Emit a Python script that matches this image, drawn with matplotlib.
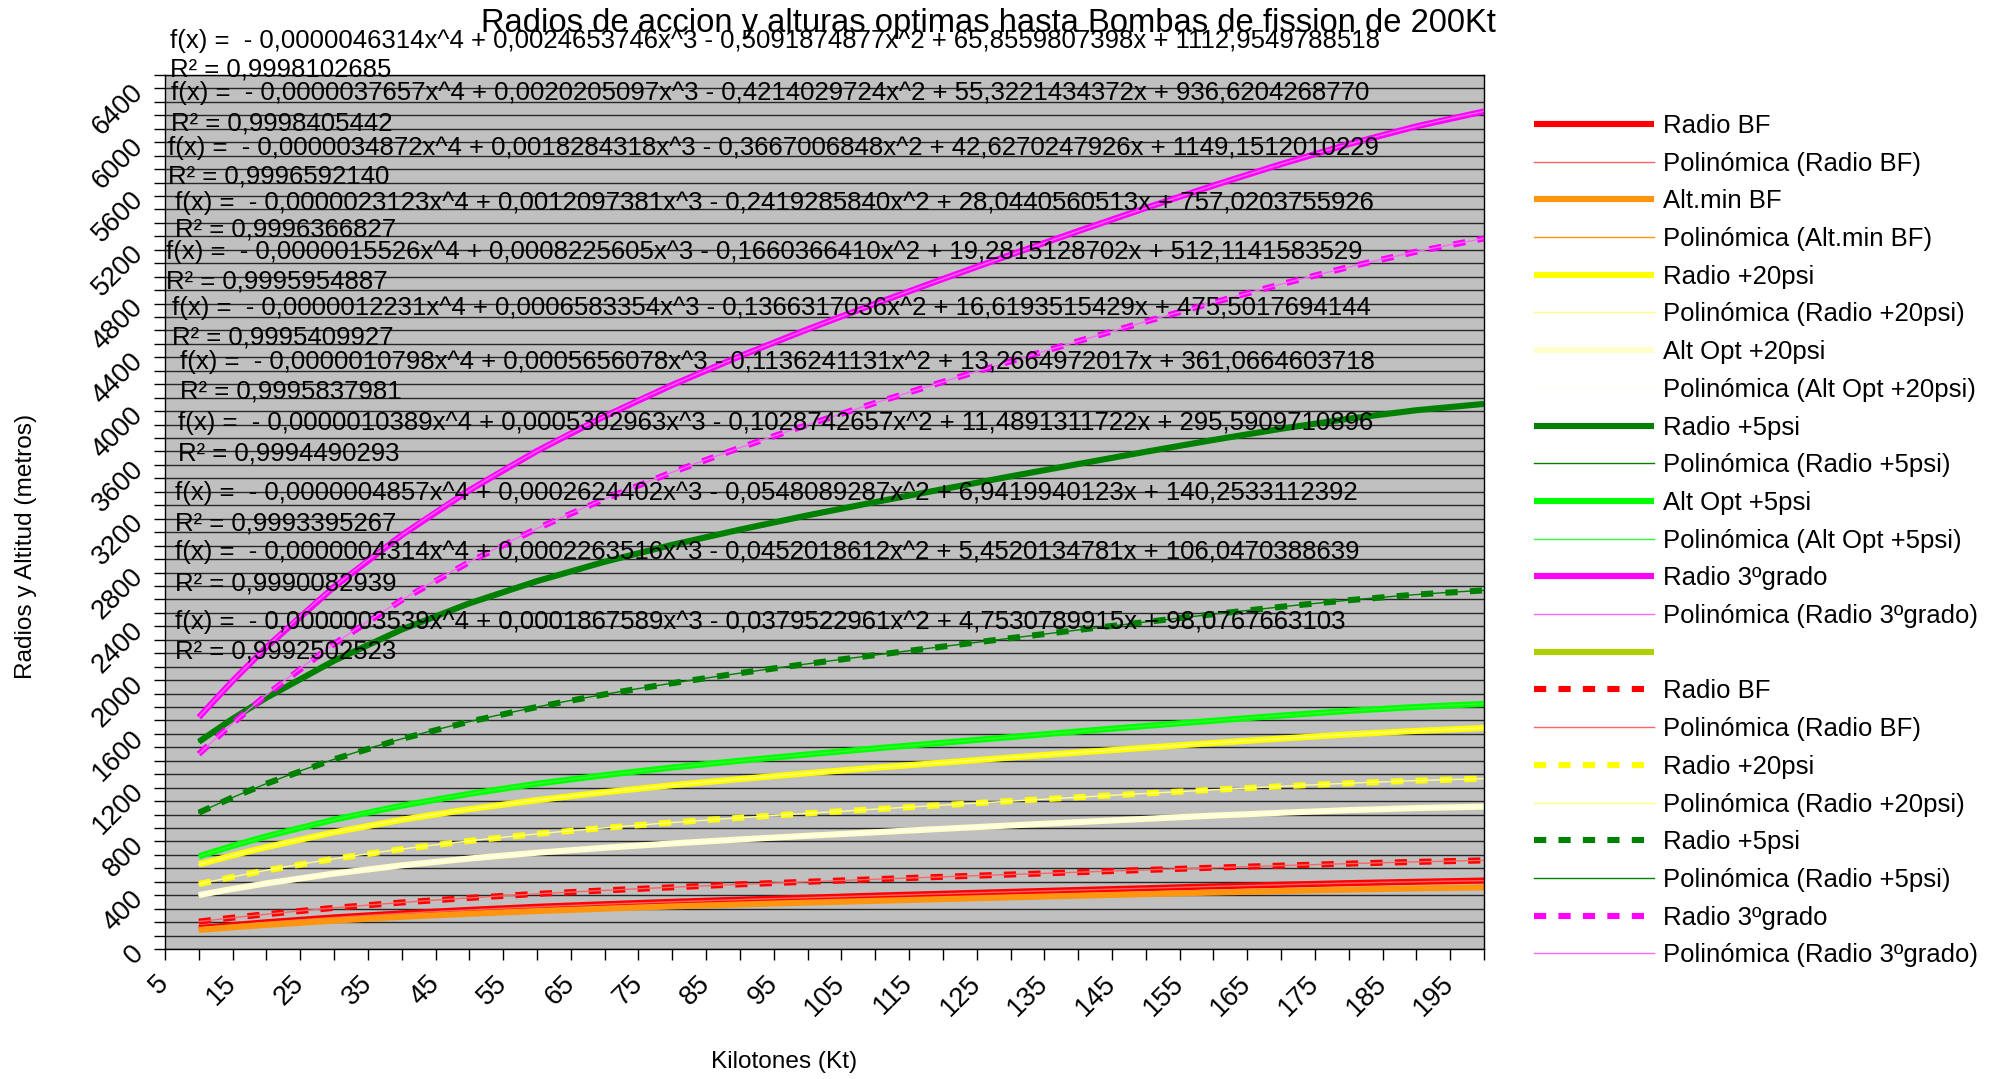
import numpy as np
import matplotlib
matplotlib.use("Agg")
import matplotlib.pyplot as plt
from matplotlib.ticker import MultipleLocator, FuncFormatter

plt.rcParams["font.family"] = ["Liberation Sans", "DejaVu Sans"]

# kilotons (x) and the series
x_kt = [10, 15, 20, 30, 40, 50, 60, 70, 80, 90, 100, 110, 120, 130, 140, 150, 160, 170, 180, 190, 200]

radio_bf = [156, 178, 199, 235, 265, 291, 314, 333, 351, 367, 382, 397, 411, 425, 439, 452, 466, 478, 490, 500, 509]
alt_min_bf = [142, 161, 179, 211, 239, 262, 282, 300, 317, 331, 345, 358, 371, 384, 396, 408, 420, 431, 442, 451, 458]
radio_20psi = [629, 696, 758, 868, 961, 1040, 1107, 1166, 1218, 1264, 1307, 1348, 1386, 1424, 1461, 1497, 1532, 1565, 1596, 1622, 1644]
alt_opt_20psi = [401, 447, 488, 561, 622, 673, 716, 753, 785, 815, 842, 868, 894, 919, 944, 968, 992, 1013, 1033, 1048, 1059]
radio_5psi = [1541, 1712, 1869, 2144, 2376, 2571, 2736, 2880, 3006, 3119, 3225, 3324, 3420, 3515, 3607, 3698, 3786, 3869, 3944, 4007, 4054]
alt_opt_5psi = [689, 767, 838, 962, 1066, 1154, 1229, 1293, 1350, 1400, 1447, 1492, 1534, 1576, 1618, 1659, 1698, 1736, 1771, 1800, 1823]
radio_3g = [1723, 1994, 2245, 2693, 3078, 3412, 3704, 3962, 4195, 4409, 4609, 4799, 4983, 5163, 5339, 5511, 5678, 5837, 5986, 6118, 6229]
# second (dashed) set
radio_bf_b = [204, 233, 259, 306, 346, 380, 410, 436, 459, 481, 500, 519, 537, 554, 571, 588, 605, 620, 635, 648, 659]
radio_20psi_b = [483, 536, 585, 671, 743, 804, 856, 901, 941, 976, 1009, 1040, 1070, 1100, 1129, 1157, 1184, 1210, 1233, 1252, 1267]
radio_5psi_b = [1014, 1127, 1230, 1411, 1563, 1691, 1800, 1894, 1977, 2052, 2121, 2186, 2249, 2312, 2373, 2432, 2490, 2545, 2594, 2636, 2667]
radio_3g_b = [1450, 1678, 1890, 2269, 2595, 2878, 3127, 3347, 3546, 3728, 3899, 4061, 4218, 4370, 4520, 4666, 4808, 4944, 5072, 5186, 5284]

# trend-line equations as printed on the chart (top to bottom)
eq_coefs = [
    [-0.0000046314, 0.0024653746, -0.5091874877, 65.8559807398, 1112.9549788518],
    [-0.0000037657, 0.0020205097, -0.4214029724, 55.3221434372, 936.6204268770],
    [-0.0000034872, 0.0018284318, -0.3667006848, 42.6270247926, 1149.1512010229],
    [-0.0000023123, 0.0012097381, -0.2419285840, 28.0440560513, 757.0203755926],
    [-0.0000015526, 0.0008225605, -0.1660366410, 19.2815128702, 512.1141583529],
    [-0.0000012231, 0.0006583354, -0.1366317036, 16.6193515429, 475.5017694144],
    [-0.0000010798, 0.0005656078, -0.1136241131, 13.2664972017, 361.0664603718],
    [-0.0000010389, 0.0005302963, -0.1028742657, 11.4891311722, 295.5909710896],
    [-0.0000004857, 0.0002624402, -0.0548089287, 6.9419940123, 140.2533112392],
    [-0.0000004314, 0.0002263516, -0.0452018612, 5.4520134781, 106.0470388639],
    [-0.0000003539, 0.0001867589, -0.0379522961, 4.7530789915, 98.0767663103],
]
eq_r2 = [0.9998102685, 0.9998405442, 0.9996592140, 0.9996366827, 0.9995954887,
         0.9995409927, 0.9995837981, 0.9994490293, 0.9993395267, 0.9990082939,
         0.9992502523]
# where LibreOffice left each label (pixels: x, y of f(x) line, y of R² line)
eq_pos = [(170, 41, 70), (171, 93, 123), (168, 148, 177), (175, 203, 230),
          (166, 252, 281), (172, 308, 337), (180, 362, 391), (178, 423, 454),
          (175, 493, 523), (175, 552, 583), (175, 622, 652)]

DASH = (0, (2.0, 2.0))
# (label, data, colour, trend colour, linestyle)
SERIES = [
    ("Radio BF", radio_bf, "#ff0000", "#ff6464", "-"),
    ("Alt.min BF", alt_min_bf, "#ff950e", "#ff950e", "-"),
    ("Radio +20psi", radio_20psi, "#ffff00", "#ffff80", "-"),
    ("Alt Opt +20psi", alt_opt_20psi, "#ffffcc", "#fffff0", "-"),
    ("Radio +5psi", radio_5psi, "#008000", "#008000", "-"),
    ("Alt Opt +5psi", alt_opt_5psi, "#00ff00", "#33ff33", "-"),
    ("Radio 3ºgrado", radio_3g, "#ff00ff", "#ff66ff", "-"),
    (" ", [], "#aecf00", None, "-"),
    ("Radio BF", radio_bf_b, "#ff0000", "#ff6464", DASH),
    ("Radio +20psi", radio_20psi_b, "#ffff00", "#ffff80", DASH),
    ("Radio +5psi", radio_5psi_b, "#008000", "#008000", DASH),
    ("Radio 3ºgrado", radio_3g_b, "#ff00ff", "#ff66ff", DASH),
]


def fmt_eq(c):
    s = "f(x) = "
    for k, a in enumerate(c):
        p = 4 - k
        term = f"{abs(a):.10f}".replace(".", ",")
        if p > 1:
            term += f"x^{p}"
        elif p == 1:
            term += "x"
        s += (" - " if a < 0 else " + ") + term
    return s


W, H = 2004, 1079
fig = plt.figure(figsize=(W / 100, H / 100), dpi=100)
ax = fig.add_axes([165 / W, 1 - 949 / H, (1484 - 165) / W, (949 - 75) / H])
ax.set_facecolor("#c0c0c0")

handles = []
xf = np.linspace(min(x_kt), max(x_kt), 300)
for label, ys, col, tcol, ls in SERIES:
    xs = x_kt if ys else []
    ln, = ax.plot(xs, ys, color=col, lw=4.4, ls=ls, solid_capstyle="butt",
                  dash_capstyle="butt", label=label)
    handles.append(ln)
    if tcol is None:
        continue
    fit = np.polyfit(x_kt, ys, 4)
    tl, = ax.plot(xf, np.polyval(fit, xf), color=tcol, lw=1.0,
                  label=f"Polinómica ({label})")
    handles.append(tl)

ax.set_xlim(5, 200)
ax.set_ylim(0, 6500)
ax.xaxis.set_major_locator(MultipleLocator(5))
ax.yaxis.set_major_locator(MultipleLocator(100))
ax.xaxis.set_major_formatter(FuncFormatter(lambda v, p: f"{v:.0f}" if round(v) % 10 == 5 else ""))
ax.yaxis.set_major_formatter(FuncFormatter(lambda v, p: f"{v:.0f}" if round(v) % 400 == 0 else ""))
ax.grid(axis="y", color="#262626", lw=1.0)
ax.set_axisbelow(True)
ax.tick_params(axis="both", length=8, width=1.0, color="black", labelsize=19.5)
ax.tick_params(axis="x", pad=14, labelrotation=45)
ax.tick_params(axis="y", pad=10.5, labelrotation=45)
plt.setp(ax.get_xticklabels() + ax.get_yticklabels(),
         ha="right", va="center", rotation_mode="anchor")
for s in ax.spines.values():
    s.set_color("black")
    s.set_linewidth(1.0)

ax.set_xlabel("Kilotones (Kt)", fontsize=17.6)
ax.xaxis.set_label_coords(0.469, -0.1293)
ax.xaxis.label.set_va("center")
ax.set_ylabel("Radios y Altitud (metros)", fontsize=17.6)
ax.yaxis.set_label_coords(-0.1055, 0.461)
ax.yaxis.label.set_va("center")
ax.yaxis.label.set_ha("center")

fig.text(988 / W, 1 - 32 / H, "Radios de accion y alturas optimas hasta Bombas de fission de 200Kt",
         fontsize=23.6, ha="center", va="baseline")

for c, r2, (px, fy, ry) in zip(eq_coefs, eq_r2, eq_pos):
    fig.text(px / W, 1 - fy / H, fmt_eq(c), fontsize=18.5, ha="left", va="center")
    fig.text(px / W, 1 - ry / H, "R² = " + f"{r2:.10f}".replace(".", ","),
             fontsize=18.5, ha="left", va="center")

fig.legend(handles, [h.get_label() for h in handles], loc="upper left",
           bbox_to_anchor=(1534 / W, 1 - 114 / H), frameon=False, fontsize=18.5,
           handlelength=4.67, handletextpad=0.35, labelspacing=0.533,
           borderpad=0, borderaxespad=0)

fig.savefig("out.png", dpi=100)
